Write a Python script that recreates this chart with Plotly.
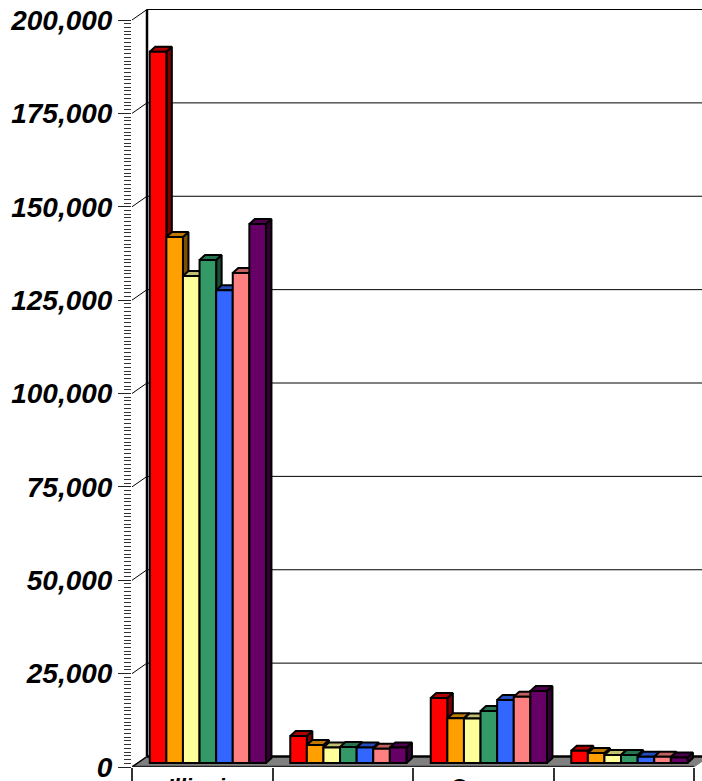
import plotly.graph_objects as go

categories = ["Illinois", "", "Ocean", ""]
series_a = [190400, 7200, 17400, 3300]
series_b = [140800, 4800, 12000, 2650]
series_c = [130400, 4150, 11900, 2140]
series_d = [134700, 4300, 13900, 2140]
series_e = [126600, 4150, 16900, 1700]
series_f = [131200, 3800, 17750, 1700]
series_g = [144300, 4150, 19300, 1500]
all_series = [series_a, series_b, series_c, series_d, series_e, series_f, series_g]
front_colors = ["#ff0000", "#ff9f00", "#ffff99", "#339966", "#3366ff", "#ff8080", "#660066"]
top_colors = ["#b00000", "#c07800", "#c0c070", "#267350", "#264dc0", "#c06060", "#4d004d"]
side_colors = ["#800000", "#805000", "#808050", "#1a4d33", "#1a3380", "#804040", "#330033"]
y_ticks = [0, 25000, 50000, 75000, 100000, 125000, 150000, 175000, 200000]
y_labels = ["0", "25,000", "50,000", "75,000", "100,000", "125,000", "150,000", "175,000", "200,000"]
y_minor = list(range(0, 200001, 1000))

W, H = 702, 781
ML, MB, MT = 132, 14, 5
PX_PER_CAT = 140.5
PX_PER_UNIT = 747 / 200000
px_x = lambda p: p / PX_PER_CAT
px_y = lambda p: p / PX_PER_UNIT

X_MAX = (W - ML) / PX_PER_CAT
Y_MAX = (H - MB - MT) / PX_PER_UNIT
WALL_X, WALL_Y = px_x(15), px_y(10.5)
FLOOR_END = 4.0
BAR_W = px_x(16.6)
GROUP_SHIFT = px_x(5.6)
BAR_BASE = px_y(4)
DEPTH_X, DEPTH_Y = px_x(5.5), px_y(5)
n_ser = len(all_series)
GROUP_W = BAR_W * n_ser

fig = go.Figure()


def line(xs, ys, color="#000000", width=1, clip=True):
    fig.add_trace(go.Scatter(x=xs, y=ys, mode="lines", line=dict(color=color, width=width),
                             hoverinfo="skip", showlegend=False, cliponaxis=clip))


for v in y_ticks:
    if v > 0:
        line([0, WALL_X, X_MAX], [v, v + WALL_Y, v + WALL_Y], clip=False)
line([WALL_X, WALL_X], [WALL_Y, y_ticks[-1] + WALL_Y], width=2.5, clip=False)

fig.add_trace(go.Scatter(
    x=[0, FLOOR_END, FLOOR_END + WALL_X, WALL_X, 0],
    y=[0, 0, WALL_Y, WALL_Y, 0],
    mode="lines", fill="toself", fillcolor="#808080", line=dict(color="#808080", width=1),
    hoverinfo="skip", showlegend=False))
line([0, WALL_X], [0, WALL_Y], width=1.5)
line([WALL_X, X_MAX], [WALL_Y, WALL_Y], width=2.5)
line([0, FLOOR_END], [0, 0], color="#222222", width=2.5, clip=False)

for i, vals in enumerate(all_series):
    sx, sy, tx, ty = [], [], [], []
    for c, v in enumerate(vals):
        left = c + 0.5 + GROUP_SHIFT - GROUP_W / 2 + i * BAR_W
        right = left + BAR_W
        top = BAR_BASE + v
        sx += [right, right + DEPTH_X, right + DEPTH_X, right, right, None]
        sy += [BAR_BASE, BAR_BASE + DEPTH_Y, top + DEPTH_Y, top, BAR_BASE, None]
        tx += [left, left + DEPTH_X, right + DEPTH_X, right, left, None]
        ty += [top, top + DEPTH_Y, top + DEPTH_Y, top, top, None]
    for xs, ys, col in ((sx, sy, side_colors[i]), (tx, ty, top_colors[i])):
        fig.add_trace(go.Scatter(x=xs, y=ys, mode="lines", fill="toself", fillcolor=col,
                                 line=dict(color="#000000", width=2),
                                 hoverinfo="skip", showlegend=False))

for i, vals in enumerate(all_series):
    fig.add_trace(go.Bar(
        x=[c + 0.5 + GROUP_SHIFT for c in range(len(categories))],
        y=vals, base=BAR_BASE, xaxis="x2", yaxis="y2",
        marker=dict(color=front_colors[i], line=dict(color="#000000", width=2)),
        showlegend=False))

fig.update_layout(
    width=W, height=H, margin=dict(l=ML, r=0, t=MT, b=MB, pad=0, autoexpand=False),
    paper_bgcolor="#ffffff", plot_bgcolor="rgba(0,0,0,0)", barmode="group",
    bargap=1 - GROUP_W, bargroupgap=0,
    font=dict(family="Liberation Sans", color="#000000"),
    xaxis=dict(range=[0, X_MAX], showgrid=False, zeroline=False, showline=False,
               tickmode="array", tickvals=list(range(len(categories) + 1)),
               showticklabels=False, ticks="outside", ticklen=14,
               tickcolor="#333333", tickwidth=1.5),
    yaxis=dict(range=[0, Y_MAX], showgrid=False, zeroline=False, showline=False,
               tickmode="array", tickvals=y_ticks, ticktext=y_labels,
               ticks="outside", ticklen=13, tickcolor="#222222", tickwidth=1,
               ticklabeloverflow="allow",
               tickfont=dict(size=28, family="Liberation Sans", weight="bold", style="italic"),
               minor=dict(tickmode="array", tickvals=y_minor, ticks="outside", ticklen=7,
                          tickcolor="#333333", tickwidth=1, showgrid=False)),
    xaxis2=dict(range=[0, X_MAX], overlaying="x", anchor="y2", side="bottom",
                showgrid=False, zeroline=False, showline=False,
                tickmode="array", tickvals=[c + 0.5 for c in range(len(categories))],
                ticktext=categories, ticks="", tickangle=0, ticklabeloverflow="allow",
                ticklabelstandoff=4,
                tickfont=dict(size=22, family="Liberation Sans", weight="bold", style="italic")),
    yaxis2=dict(range=[0, Y_MAX], overlaying="y", anchor="x2", visible=False),
)

fig.write_html("out.html", config=dict(displayModeBar=False),
               post_script="document.body.style.margin='0';document.documentElement.style.overflow='hidden';")
